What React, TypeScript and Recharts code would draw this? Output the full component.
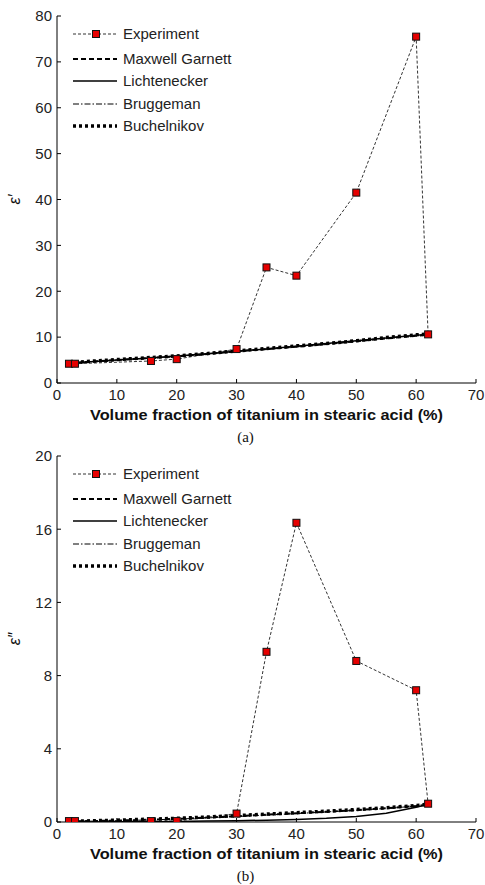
import React from 'react';
import { LineChart, Line, XAxis, YAxis } from 'recharts';

// Experimental points
const xExp = [2, 3, 15.7, 20, 30, 35, 40, 50, 60, 62];
const expReal = [4.2, 4.2, 4.8, 5.2, 7.4, 25.2, 23.4, 41.5, 75.5, 10.6];
const expImag = [0.05, 0.05, 0.05, 0.05, 0.46, 9.3, 16.35, 8.8, 7.2, 1.0];

// Model curves
const xModel = [2, 5, 10, 15, 20, 25, 30, 35, 40, 45, 50, 55, 60, 62];
const mgReal = [4.3, 4.6, 5.0, 5.4, 5.8, 6.3, 6.9, 7.4, 7.9, 8.5, 9.1, 9.7, 10.3, 10.5];
const lichReal = [4.3, 4.6, 5.0, 5.4, 5.9, 6.4, 6.9, 7.4, 8.0, 8.6, 9.2, 9.8, 10.4, 10.6];
const brugReal = [4.3, 4.6, 5.0, 5.4, 5.8, 6.3, 6.9, 7.4, 8.0, 8.5, 9.1, 9.8, 10.4, 10.6];
const buchReal = [4.4, 4.7, 5.1, 5.5, 5.9, 6.4, 7.0, 7.5, 8.1, 8.6, 9.2, 9.9, 10.5, 10.7];

const mgImag = [0.03, 0.05, 0.08, 0.12, 0.17, 0.24, 0.32, 0.4, 0.48, 0.56, 0.65, 0.75, 0.88, 0.95];
const lichImag = [0.0, 0.0, 0.01, 0.02, 0.03, 0.05, 0.07, 0.1, 0.14, 0.2, 0.3, 0.48, 0.8, 0.97];
const brugImag = [0.02, 0.04, 0.07, 0.11, 0.16, 0.22, 0.3, 0.38, 0.46, 0.55, 0.64, 0.74, 0.87, 0.95];
const buchImag = [0.03, 0.06, 0.1, 0.15, 0.2, 0.27, 0.35, 0.43, 0.51, 0.59, 0.68, 0.78, 0.9, 0.97];

// Ticks and labels
const xTicks = [0, 10, 20, 30, 40, 50, 60, 70];
const yTicksA = [0, 10, 20, 30, 40, 50, 60, 70, 80];
const yTicksB = [0, 4, 8, 12, 16, 20];
const seriesNames = ['Experiment', 'Maxwell Garnett', 'Lichtenecker', 'Bruggeman', 'Buchelnikov'];
const xAxisTitle = 'Volume fraction of titanium in stearic acid (%)';

const toRows = (xs: number[], ys: number[]) => xs.map((x, i) => ({ x, y: ys[i] }));

const SANS = '"Liberation Sans", Arial, Helvetica, sans-serif';
const tickStyle = { fontFamily: SANS, fontSize: 15, fill: '#222' };

const modelStyles = [
  { dash: '5 3', width: 2 },
  { dash: undefined as string | undefined, width: 1.5 },
  { dash: '6 2 1.5 2', width: 1 },
  { dash: '3 3', width: 3.5 },
];

const Square = (p: any) => {
  const { cx, cy, index } = p;
  if (cx == null || cy == null) return <g key={`d${index}`} />;
  return (
    <rect key={`d${index}`} x={cx - 3.5} y={cy - 3.5} width={7} height={7} fill="#e60000" stroke="#111" strokeWidth={1} />
  );
};

const LegendBox = () => {
  const rows = [18, 43, 65, 88, 110];
  return (
    <svg width={220} height={130} style={{ display: 'block' }}>
      {seriesNames.map((name, i) => {
        const y = rows[i];
        return (
          <g key={name}>
            {i === 0 ? (
              <>
                <line x1={16} x2={60} y1={y} y2={y} stroke="#333" strokeWidth={1} strokeDasharray="3 2" />
                <rect x={35.5} y={y - 3.5} width={7} height={7} fill="#e60000" stroke="#111" strokeWidth={1} />
              </>
            ) : (
              <line
                x1={16}
                x2={60}
                y1={y}
                y2={y}
                stroke="#000"
                strokeWidth={modelStyles[i - 1].width}
                strokeDasharray={modelStyles[i - 1].dash}
              />
            )}
            <text x={66} y={y + 5} fontFamily={SANS} fontSize={15} fill="#222">
              {name}
            </text>
          </g>
        );
      })}
    </svg>
  );
};

type PanelProps = {
  exp: number[];
  models: number[][];
  yTicks: number[];
  yMax: number;
  yLabel: string;
  caption: string;
  height: number;
  axisHeight: number;
};

const Panel = ({ exp, models, yTicks, yMax, yLabel, caption, height, axisHeight }: PanelProps) => (
  <div style={{ position: 'relative', width: 485, height }}>
    <LineChart width={485} height={height} margin={{ top: 16, right: 9, left: 0, bottom: 0 }}>
      <XAxis
        xAxisId="b"
        type="number"
        dataKey="x"
        domain={[0, 70]}
        ticks={xTicks}
        allowDataOverflow
        height={axisHeight}
        tickSize={-4}
        tickMargin={10}
        stroke="#000"
        tick={tickStyle}
        label={{
          content: (props: any) => {
            const vb = props.viewBox || {};
            const cx = vb.x + vb.width / 2;
            return (
              <g>
                <text x={cx} y={vb.y + 37} textAnchor="middle" fontFamily={SANS} fontWeight="bold" fontSize={15} fill="#111" textLength={353} lengthAdjust="spacingAndGlyphs">
                  {xAxisTitle}
                </text>
                <text x={cx - 21} y={vb.y + 59} textAnchor="middle" fontFamily='"Liberation Serif", "Times New Roman", serif' fontSize={15} fill="#111">
                  {caption}
                </text>
              </g>
            );
          },
        }}
      />
      <XAxis
        xAxisId="t"
        orientation="top"
        type="number"
        domain={[0, 70]}
        ticks={xTicks}
        allowDataOverflow
        height={0}
        tickSize={-4}
        stroke="#000"
        tickFormatter={() => ''}
      />
      <YAxis
        yAxisId="l"
        type="number"
        domain={[0, yMax]}
        ticks={yTicks}
        allowDataOverflow
        width={57}
        tickSize={-4}
        tickMargin={9}
        stroke="#000"
        tick={tickStyle}
        label={{
          content: (props: any) => {
            const vb = props.viewBox || {};
            const cy = vb.y + vb.height / 2;
            return (
              <text x={20} y={cy} transform={`rotate(-90, 20, ${cy})`} textAnchor="middle" fontFamily={SANS} fontStyle="italic" fontSize={16} fill="#111">
                {yLabel}
              </text>
            );
          },
        }}
      />
      <YAxis
        yAxisId="r"
        orientation="right"
        type="number"
        domain={[0, yMax]}
        ticks={yTicks}
        allowDataOverflow
        width={0}
        tickSize={-4}
        stroke="#000"
        tickFormatter={() => ''}
      />
      <Line
        name={seriesNames[0]}
        data={toRows(xExp, exp)}
        dataKey="y"
        xAxisId="b"
        yAxisId="l"
        type="linear"
        stroke="#333"
        strokeWidth={1}
        strokeDasharray="3 2"
        dot={Square}
        activeDot={false}
        isAnimationActive={false}
      />
      {models.map((m, i) => (
        <Line
          key={seriesNames[i + 1]}
          name={seriesNames[i + 1]}
          data={toRows(xModel, m)}
          dataKey="y"
          xAxisId="b"
          yAxisId="l"
          type="linear"
          stroke="#000"
          strokeWidth={modelStyles[i].width}
          strokeDasharray={modelStyles[i].dash}
          dot={false}
          activeDot={false}
          isAnimationActive={false}
        />
      ))}
    </LineChart>
    <div style={{ position: 'absolute', left: 57, top: 16 }}>
      <LegendBox />
    </div>
  </div>
);

export default function App() {
  return (
    <div style={{ position: 'absolute', left: 0, top: 0, width: 485, height: 885, background: '#fff' }}>
      <div style={{ position: 'absolute', left: 0, top: 0 }}>
        <Panel
          exp={expReal}
          models={[mgReal, lichReal, brugReal, buchReal]}
          yTicks={yTicksA}
          yMax={80}
          yLabel={'ε′'}
          caption="(a)"
          height={450}
          axisHeight={67}
        />
      </div>
      <div style={{ position: 'absolute', left: 0, top: 440 }}>
        <Panel
          exp={expImag}
          models={[mgImag, lichImag, brugImag, buchImag]}
          yTicks={yTicksB}
          yMax={20}
          yLabel={'ε″'}
          caption="(b)"
          height={445}
          axisHeight={63}
        />
      </div>
    </div>
  );
}
